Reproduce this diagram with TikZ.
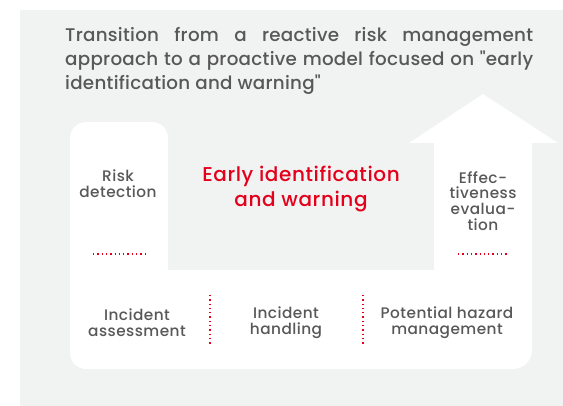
\documentclass[tikz,border=0pt]{standalone}
\usepackage{fontspec}
\setmainfont{Poppins}[UprightFont=* Medium, LetterSpace=3]
\usepackage{tikz}
\usetikzlibrary{positioning}
\usepackage{xcolor}
\definecolor{panelgrey}{RGB}{241,242,242}
\definecolor{labelgrey}{RGB}{88,88,88}
\definecolor{warnred}{RGB}{228,0,27}
\tikzset{steplabel/.style={text=labelgrey, align=center, inner sep=0pt, font=\fontsize{15.3}{15.8}\selectfont},
separator/.style={draw=warnred, line width=1.3pt, dash pattern=on 1.3pt off 3pt}}

\begin{document}
\begin{tikzpicture}[x=1pt, y=-1pt]
        % Frame
        \useasboundingbox (0, 0) rectangle (563, 406);
        \fill[white] (0, 0) rectangle (563, 406);
        \fill[panelgrey] (20, 10) rectangle (563, 406);
        % Title
        \node[anchor=north west, inner sep=0pt, text width=468pt, align=justify, text=labelgrey,
            font=\fontsize{18.3}{24}\selectfont\addfontfeatures{LetterSpace=1.5}] (title) at (65, 27)
            {Transition from a reactive risk management \mbox{approach} to a proactive model focused on \textquotedbl early identification and warning\textquotedbl};
        % White path
        \fill[white, rounded corners=16pt] (70, 122) rectangle (168, 369);
        \fill[white, rounded corners=19pt] (70, 270) rectangle (532, 369);
        \fill[white] (434, 143) rectangle (532, 300);
        \fill[white] (409, 143) -- (483, 94) -- (558, 143) -- cycle;
        % Steps
        \node[steplabel] (detect) at (118, 184) {Risk\\detection};
        \node[steplabel] (evaluate) at (483, 201) {Effec-\\tiveness\\evalua-\\tion};
        \node[steplabel] (assess) at (137, 323) {Incident\\assessment};
        \node[steplabel] (handle) at (286, 323) {Incident\\handling};
        \node[steplabel] (hazard) at (447, 323) {Potential hazard\\management};
        \node[text=warnred, align=center, inner sep=0pt, font=\fontsize{20}{25}\selectfont] (warning) at (301, 189)
            {Early identification\\and warning};
        % Dotted separators
        \draw[separator] (93, 254) -- (145, 254);
        \draw[separator] (458, 254) -- (509, 254);
        \draw[separator] (210, 295) -- (210, 346);
        \draw[separator] (363, 295) -- (363, 346);
    \end{tikzpicture}
\end{document}
